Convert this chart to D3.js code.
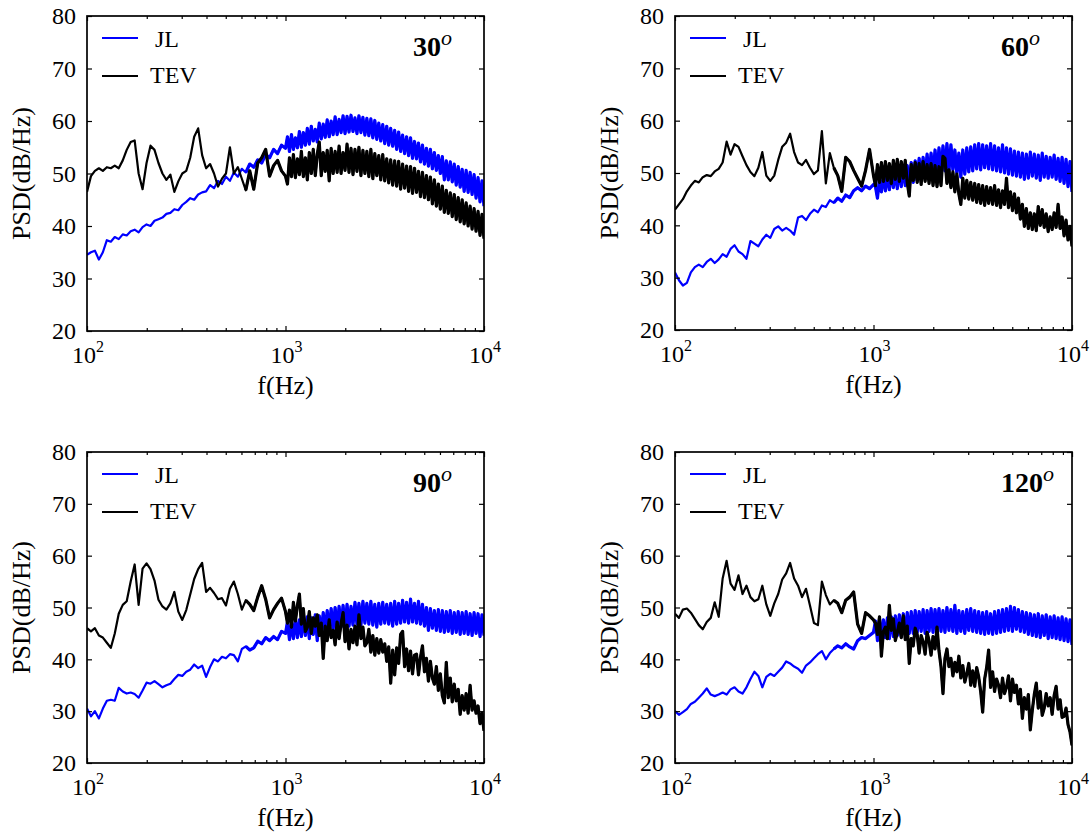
<!DOCTYPE html>
<html><head><meta charset="utf-8">
<script src="https://cdn.jsdelivr.net/npm/d3@7"></script>
<style>body{margin:0;background:#fff} svg{display:block} text{font-family:"Liberation Serif","Times New Roman",serif}</style>
</head><body><svg id="c" width="1090" height="832"></svg>
<script>
// Frequency grid (Hz)
const freqLow = [100,104.7,109.6,114.8,120.2,125.9,131.8,138.0,144.5,151.4,158.5,166.0,173.8,182.0,190.5,199.5,208.9,218.8,229.1,239.9,251.2,263.0,275.4,288.4,302.0,316.2,331.1,346.7,363.1,380.2,398.1,416.9,436.5,457.1,478.6,501.2,524.8,549.5,575.4,602.6,631.0,660.7,691.8,724.4,758.6,794.3,831.8,871.0,912.0,955.0,1000];
const freqHigh = [1023,1047,1072,1096,1122,1148,1175,1202,1230,1259,1288,1318,1349,1380,1413,1445,1479,1514,1549,1585,1622,1660,1698,1738,1778,1820,1862,1905,1950,1995,2042,2089,2138,2188,2239,2291,2344,2399,2455,2512,2570,2630,2692,2754,2818,2884,2951,3020,3090,3162,3236,3311,3388,3467,3548,3631,3715,3802,3890,3981,4074,4169,4266,4365,4467,4571,4677,4786,4898,5012,5129,5248,5370,5495,5623,5754,5888,6026,6166,6310,6457,6607,6761,6918,7079,7244,7413,7586,7762,7943,8128,8318,8511,8710,8913,9120,9333,9550,9772,10000];
const freq = freqLow.concat(freqHigh);

// 30 deg
const jl30 = [34.5,35.0,35.3,33.6,35.0,37.3,37.0,37.9,37.5,38.4,38.2,39.0,39.3,38.8,39.8,40.3,40.0,41.0,41.3,41.6,42.3,42.5,43.2,43.0,44.0,44.6,45.3,45.0,46.0,46.4,46.6,47.8,47.2,48.6,48.0,49.4,48.6,50.2,49.4,50.9,50.2,51.8,51.2,52.6,52.0,53.6,53.0,54.6,53.8,55.4,54.8,
57.0,54.2,57.4,54.6,56.8,54.9,58.0,55.0,57.8,55.4,
58.6,55.6,59.0,56.2,58.4,56.0,59.6,56.6,59.4,56.9,
60.2,57.0,60.0,57.4,60.8,57.4,60.3,57.8,61.0,57.6,
60.9,57.9,61.1,58.0,60.6,57.6,61.0,57.8,60.7,57.3,
60.5,57.2,60.4,56.8,60.1,56.5,59.6,56.2,59.3,55.7,
59.0,55.4,58.6,55.2,58.2,54.6,57.9,54.2,57.3,53.8,
57.0,53.4,56.8,52.9,56.1,52.8,55.8,52.2,55.4,51.8,
54.8,51.4,54.6,50.9,54.0,50.6,53.4,50.0,53.2,48.8,
52.4,48.8,52.2,48.4,51.8,47.8,51.3,47.4,50.8,46.6,
50.6,46.4,50.2,46.0,49.8,45.3,49.2,44.6,48.6,43.8];
const tev30 = [46.5,49.5,50.5,51.0,50.5,51.2,51.0,51.5,51.0,52.5,54.5,56.0,56.3,50.0,47.0,52.0,55.3,54.5,52.0,50.0,48.8,49.8,46.5,48.5,50.0,50.5,53.0,57.0,58.6,53.5,51.0,51.8,50.0,47.5,49.0,50.0,55.0,50.0,51.2,49.0,46.8,50.5,47.0,52.0,53.0,54.6,49.5,51.5,52.5,50.5,49.5,
48.0,53.0,49.4,53.6,49.2,52.8,49.8,54.2,49.4,53.0,
48.8,54.0,50.0,54.6,49.6,53.6,56.0,49.6,54.0,50.4,
54.4,48.6,54.8,50.0,54.2,50.2,55.2,50.0,54.0,50.6,
55.6,50.2,54.8,49.8,54.6,50.4,55.0,49.6,54.4,50.0,
54.2,49.4,54.6,49.0,53.8,49.6,53.4,48.8,53.6,48.6,
52.8,48.2,52.6,47.8,52.4,47.6,52.3,47.0,51.8,47.2,
51.4,46.6,51.3,46.2,51.0,46.4,50.4,45.6,50.2,45.4,
49.6,45.0,49.3,44.2,48.8,43.8,48.0,43.2,47.6,42.6,
46.8,42.4,46.3,41.8,46.0,41.2,45.4,40.8,45.0,40.4,
44.4,40.0,43.8,39.4,43.3,39.0,42.8,38.2,42.2,37.6];

// 60 deg
const jl60 = [31.0,29.5,28.5,29.0,31.0,32.0,32.5,32.0,33.0,33.6,32.8,33.5,34.5,34.0,35.5,36.2,35.0,34.5,33.6,37.0,36.5,36.0,37.3,38.2,37.6,39.3,39.8,39.0,39.5,39.0,38.2,41.5,41.8,41.0,42.2,43.0,42.5,43.8,43.5,44.8,44.3,45.2,44.6,45.8,45.3,46.6,47.2,46.6,47.5,47.0,47.8,
47.4,45.2,48.8,46.4,49.4,46.6,49.8,46.8,50.2,47.2,
50.4,47.0,50.8,47.4,51.2,47.6,51.4,47.8,52.0,48.2,
52.3,48.6,52.8,48.8,53.0,49.2,53.6,49.2,53.8,49.6,
54.4,49.8,54.8,50.0,55.2,50.4,55.6,50.2,55.4,50.6,
54.4,50.0,53.8,49.2,54.4,49.8,54.8,50.2,55.0,50.4,
55.4,50.8,55.6,50.6,55.4,51.0,55.2,50.8,55.6,50.6,
55.2,50.4,54.8,50.2,55.4,50.0,54.8,49.8,54.6,49.6,
54.2,49.4,54.0,49.2,53.8,48.8,53.6,49.0,54.0,49.4,
53.6,49.0,53.4,48.6,53.8,49.2,53.2,49.0,53.0,49.2,
53.4,48.8,52.8,48.4,53.0,48.0,52.6,47.4,52.2,46.4];
const tev60 = [43.0,44.0,45.0,46.5,47.6,48.5,48.2,49.2,49.6,49.4,50.3,50.8,52.0,56.0,53.5,55.5,55.0,53.2,51.5,50.2,49.4,51.0,54.0,49.5,48.5,49.5,52.5,55.0,55.8,57.5,54.0,52.0,51.5,52.5,51.0,49.8,50.5,58.0,48.0,53.8,51.0,49.5,46.5,53.0,52.2,50.5,49.0,47.5,50.5,54.5,49.5,
47.6,51.6,48.2,52.0,48.4,52.2,48.6,51.8,48.0,52.4,
48.8,52.6,48.4,52.2,49.0,52.4,48.2,45.6,51.6,48.6,
52.0,48.2,51.8,47.8,52.2,48.4,51.6,48.0,51.8,47.6,
51.4,47.4,51.2,47.6,53.2,52.8,48.0,50.6,47.2,50.2,
46.4,49.8,46.0,44.0,49.0,45.2,48.6,45.0,48.2,44.8,
48.0,44.4,47.8,44.2,47.6,43.8,47.4,44.2,47.2,44.0,
47.6,43.8,46.8,43.4,46.6,44.0,49.0,43.4,46.4,42.8,
46.0,42.4,45.2,41.2,44.0,39.8,43.2,39.4,42.4,39.2,
42.2,39.0,43.6,40.0,43.0,39.6,42.2,38.8,41.6,39.2,
42.4,39.6,44.0,39.4,41.6,38.0,41.0,37.2,39.8,36.0];

// 90 deg
const jl90 = [30.5,29.0,30.0,28.6,30.5,32.0,32.2,32.0,34.5,33.8,33.4,33.6,33.3,32.6,34.0,35.5,35.3,35.8,35.2,34.6,35.0,35.3,36.2,37.0,36.8,37.6,38.0,39.0,38.3,38.8,36.6,38.5,40.0,39.6,40.5,40.2,41.0,40.8,39.6,42.0,42.5,41.8,42.2,43.5,43.0,44.2,43.6,44.4,43.8,45.4,45.0,
47.2,43.8,47.0,44.0,47.8,44.2,47.6,44.4,48.0,44.6,
48.2,44.0,48.0,44.8,48.6,43.6,48.4,45.2,49.0,45.4,
49.4,45.6,49.8,45.8,50.0,46.0,50.2,46.2,50.4,46.2,
50.6,46.4,50.2,46.6,51.0,46.8,50.8,46.6,51.2,47.0,
50.8,46.8,51.2,46.6,50.6,46.2,50.8,46.8,51.0,47.0,
50.6,46.8,50.8,46.4,51.2,46.8,50.8,47.0,51.4,47.2,
51.0,47.0,51.6,47.2,50.8,47.0,51.2,46.8,50.6,46.4,
50.0,45.6,49.8,46.0,49.4,45.6,49.6,45.4,49.4,45.2,
49.2,45.4,49.4,45.0,49.0,45.2,49.2,44.8,49.0,45.0,
49.2,44.8,48.8,44.6,49.0,45.0,48.8,44.4,48.6,44.6];
const tev90 = [46.0,45.4,46.0,44.6,44.2,43.2,42.2,45.0,48.8,50.5,51.2,55.0,58.3,50.5,57.5,58.5,57.4,55.2,51.5,50.2,49.6,50.8,53.0,49.2,47.6,49.5,52.5,55.5,57.4,58.6,53.0,53.8,52.8,51.6,51.8,50.4,53.6,55.0,52.6,49.6,51.4,50.6,49.4,52.0,54.2,51.6,48.0,49.6,50.8,51.8,49.2,
47.0,49.5,46.2,51.0,47.4,50.4,52.6,46.8,49.8,45.4,
46.2,49.2,45.0,48.0,46.4,48.6,44.6,47.0,40.2,46.4,
43.6,47.6,44.2,45.6,42.8,47.2,44.0,46.8,49.0,43.4,
46.6,42.0,45.8,43.2,46.4,42.8,48.6,44.0,46.2,42.6,
43.2,45.8,41.4,44.6,40.8,44.0,41.2,43.8,41.4,43.0,
39.6,42.4,35.4,41.8,37.0,42.2,39.2,44.8,45.4,38.6,
42.0,37.8,41.6,37.2,40.8,41.0,37.0,40.4,42.6,37.6,
40.2,35.8,39.6,36.4,35.2,38.6,34.0,37.2,33.0,31.6,
39.4,32.6,36.4,31.8,35.2,32.0,34.2,29.4,33.0,30.2,
33.4,29.6,35.0,30.2,32.0,29.6,31.0,27.6,29.6,26.2];

// 120 deg
const jl120 = [30.0,29.3,29.8,30.4,31.4,31.8,32.6,33.4,34.4,33.2,32.9,33.2,33.6,33.2,34.2,34.6,33.8,33.4,34.6,36.2,37.6,36.8,34.6,36.6,37.2,36.8,37.6,38.4,39.6,39.2,38.6,38.2,37.4,38.8,39.4,40.2,41.0,41.6,40.0,41.2,42.0,42.6,42.2,43.0,42.4,42.0,43.6,44.2,44.0,44.6,45.2,
47.4,43.6,47.8,44.0,47.6,44.2,48.0,44.0,48.2,44.4,
48.4,44.6,48.6,44.4,48.8,44.8,49.0,45.0,49.2,45.0,
49.4,45.2,49.2,45.4,49.6,45.0,49.4,45.4,49.8,45.2,
49.6,45.6,49.8,45.4,49.4,45.2,50.0,45.6,49.6,45.4,
50.4,45.0,49.4,45.4,49.2,45.0,49.6,45.6,49.8,45.4,
49.4,45.2,49.2,45.0,49.0,44.8,49.2,45.0,48.8,44.8,
49.2,45.0,49.4,45.2,49.6,45.4,49.8,45.6,50.2,45.4,
50.0,45.8,49.6,45.4,49.2,45.2,49.0,44.8,48.8,44.6,
48.6,44.4,48.8,44.2,48.4,44.6,48.6,44.0,48.2,44.2,
48.4,44.0,48.0,43.8,48.2,43.6,47.8,43.4,47.6,42.8];
const tev120 = [48.8,48.0,49.6,49.8,49.0,47.8,46.6,45.8,47.2,48.0,51.0,48.2,55.6,59.0,54.6,53.4,56.2,52.6,54.2,52.0,51.2,51.6,54.2,50.6,48.4,50.8,52.6,55.4,56.6,58.6,55.6,54.2,52.0,53.6,50.4,47.0,46.6,55.0,52.4,50.6,51.4,50.8,49.0,51.4,52.0,53.0,46.8,45.0,49.0,48.4,47.6,
47.0,44.8,48.2,40.6,45.4,46.2,44.0,50.4,45.6,47.8,
43.6,45.2,47.0,44.2,48.4,43.8,46.4,39.2,44.0,42.6,
46.0,44.8,41.2,44.6,43.4,41.0,45.2,43.6,40.8,44.4,
42.0,46.2,41.6,38.6,33.4,40.2,42.0,38.6,40.2,36.8,
39.4,37.6,40.6,36.4,38.8,35.6,37.2,39.2,35.0,37.8,
34.8,38.4,36.6,33.8,29.8,36.2,38.4,41.8,34.6,37.6,
33.8,36.2,35.0,32.6,36.4,33.4,34.6,36.8,32.0,36.2,
33.6,35.0,31.4,34.2,28.6,32.6,30.4,33.2,26.4,30.2,
33.2,35.4,30.6,33.8,29.2,30.6,33.4,31.0,32.6,29.4,
33.0,34.8,30.4,32.2,28.8,29.0,30.6,27.4,26.0,23.4];

const angles = ["30","60","90","120"];
const seriesNames = ["JL","TEV"];
const yTicks = [20,30,40,50,60,70,80];
const xMajor = [100,1000,10000];
const xExp = ["2","3","4"];
const xMinor = [200,300,400,500,600,700,800,900,2000,3000,4000,5000,6000,7000,8000,9000];

const panels = [
  {angle:angles[0], jl:jl30, tev:tev30},
  {angle:angles[1], jl:jl60, tev:tev60},
  {angle:angles[2], jl:jl90, tev:tev90},
  {angle:angles[3], jl:jl120, tev:tev120}
];
const layout = [
  {x0:87,x1:484,y0:16,y1:331},
  {x0:675,x1:1072,y0:16,y1:330},
  {x0:87,x1:484,y0:452,y1:763},
  {x0:675,x1:1072,y0:452,y1:763}
];
const FONT = '"Liberation Serif","Times New Roman",serif';
const svg = d3.select("#c");

panels.forEach((p,k)=>{
  const L = layout[k];
  const x = d3.scaleLog().domain([100,10000]).range([L.x0,L.x1]);
  const y = d3.scaleLinear().domain([20,80]).range([L.y1,L.y0]);
  const g = svg.append("g");

  g.append("clipPath").attr("id","clip"+k).append("rect")
    .attr("x",L.x0).attr("y",L.y0).attr("width",L.x1-L.x0).attr("height",L.y1-L.y0);

  const line = d3.line().x(d=>x(d[0])).y(d=>y(d[1]));
  const plot = g.append("g").attr("clip-path","url(#clip"+k+")");
  const drawSeries = (vals,color) => {
    const pts = d3.zip(freq,vals);
    plot.append("path").datum(pts).attr("d",line)
      .attr("fill","none").attr("stroke",color).attr("stroke-width",2.2).attr("stroke-linejoin","round");
    // dense upper-frequency noise band: same data, heavier stroke so it reads as a solid band
    plot.append("path").datum(pts.filter(d=>d[0]>=630)).attr("d",line)
      .attr("fill","none").attr("stroke",color).attr("stroke-width",3.2).attr("stroke-linejoin","round");
  };
  drawSeries(p.jl,"#0000ff");
  drawSeries(p.tev,"#000000");

  // axes with inward ticks
  const styleAxis = sel => { sel.select(".domain").remove(); sel.selectAll("line").attr("stroke","#000").attr("stroke-width",1.2); };
  g.append("g").attr("transform",`translate(${L.x0},0)`)
    .call(d3.axisLeft(y).tickValues(yTicks).tickSizeInner(-5).tickSizeOuter(0).tickPadding(11))
    .call(styleAxis)
    .call(s=>s.selectAll("text").attr("font-family",FONT).attr("font-size",24).attr("fill","#000"));
  g.append("g").attr("transform",`translate(${L.x1},0)`)
    .call(d3.axisRight(y).tickValues(yTicks).tickSizeInner(-5).tickSizeOuter(0).tickFormat(""))
    .call(styleAxis);
  g.append("g").attr("transform",`translate(0,${L.y1})`)
    .call(d3.axisBottom(x).tickValues(xMajor).tickSizeInner(-5).tickSizeOuter(0).tickFormat(""))
    .call(styleAxis);
  g.append("g").attr("transform",`translate(0,${L.y1})`)
    .call(d3.axisBottom(x).tickValues(xMinor).tickSizeInner(-3).tickSizeOuter(0).tickFormat(""))
    .call(styleAxis);
  g.append("g").attr("transform",`translate(0,${L.y0})`)
    .call(d3.axisTop(x).tickValues(xMajor).tickSizeInner(-5).tickSizeOuter(0).tickFormat(""))
    .call(styleAxis);
  g.append("g").attr("transform",`translate(0,${L.y0})`)
    .call(d3.axisTop(x).tickValues(xMinor).tickSizeInner(-3).tickSizeOuter(0).tickFormat(""))
    .call(styleAxis);

  // x tick labels 10^n
  xMajor.forEach((v,i)=>{
    const t = g.append("text").attr("x",x(v)+1).attr("y",L.y1+32)
      .attr("text-anchor","middle").attr("font-family",FONT).attr("font-size",24).attr("fill","#000");
    t.append("tspan").text("10");
    t.append("tspan").attr("dy",-11).attr("font-size",16).text(xExp[i]);
  });

  // frame
  g.append("rect").attr("x",L.x0).attr("y",L.y0).attr("width",L.x1-L.x0).attr("height",L.y1-L.y0)
    .attr("fill","none").attr("stroke","#000").attr("stroke-width",1.7);

  // axis labels
  g.append("text").attr("x",(L.x0+L.x1)/2).attr("y",L.y1+63).attr("text-anchor","middle")
    .attr("font-family",FONT).attr("font-size",26).text("f(Hz)");
  g.append("text").attr("transform",`translate(${L.x0-57},${(L.y0+L.y1)/2}) rotate(-90)`)
    .attr("text-anchor","middle").attr("font-family",FONT).attr("font-size",26).text("PSD(dB/Hz)");

  // legend
  const lg = g.append("g");
  lg.append("line").attr("x1",L.x0+15).attr("x2",L.x0+51).attr("y1",L.y0+22).attr("y2",L.y0+22)
    .attr("stroke","#0000ff").attr("stroke-width",2);
  lg.append("text").attr("x",L.x0+68).attr("y",L.y0+31).attr("font-family",FONT).attr("font-size",24).text(seriesNames[0]);
  lg.append("line").attr("x1",L.x0+15).attr("x2",L.x0+51).attr("y1",L.y0+60).attr("y2",L.y0+60)
    .attr("stroke","#000").attr("stroke-width",2);
  lg.append("text").attr("x",L.x0+63).attr("y",L.y0+67).attr("font-family",FONT).attr("font-size",24).text(seriesNames[1]);

  // title
  const tt = g.append("text").attr("x",L.x0+326).attr("y",L.y0+40).attr("font-family",FONT)
    .attr("font-size",28).attr("font-weight","bold");
  tt.append("tspan").text(p.angle);
  tt.append("tspan").attr("dy",-11).attr("font-size",22).attr("font-style","italic").attr("font-weight","normal").text("o");
});
</script></body></html>
